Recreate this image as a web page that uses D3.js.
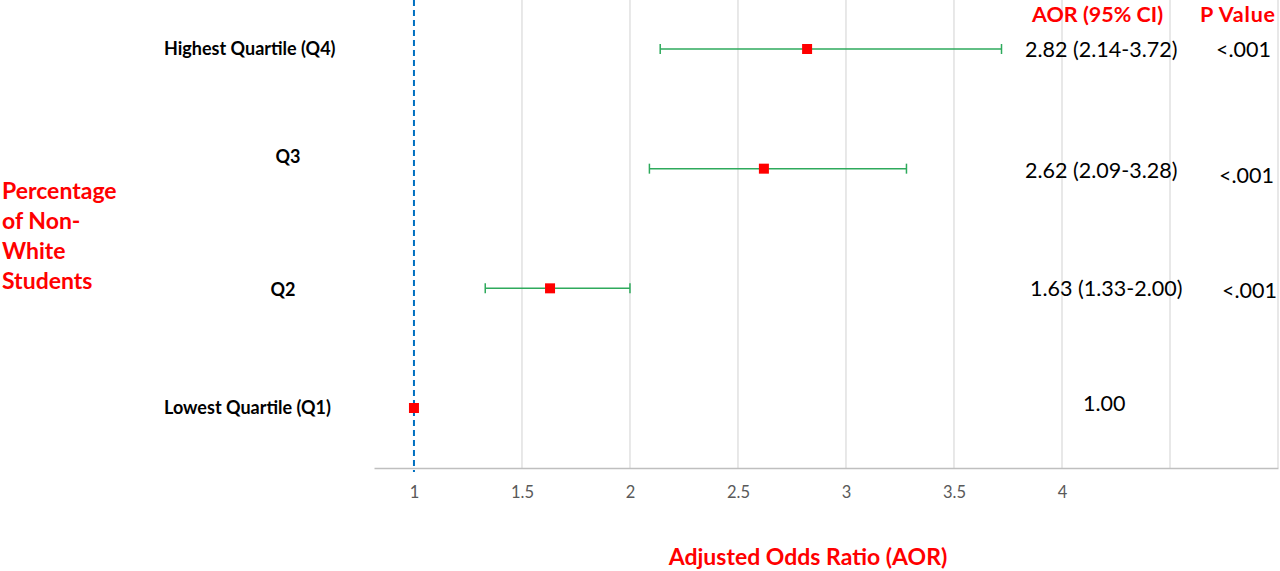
<!DOCTYPE html>
<html><head><meta charset="utf-8">
<script src="https://cdn.jsdelivr.net/npm/d3@7"></script>
<style>html,body{margin:0;padding:0;background:#fff;}svg{display:block;}</style>
</head><body>
<script>
const categories = ["Highest Quartile (Q4)", "Q3", "Q2", "Lowest Quartile (Q1)"];
const aor = [2.82, 2.62, 1.63, 1.00];
const ciLow = [2.14, 2.09, 1.33, null];
const ciHigh = [3.72, 3.28, 2.00, null];
const aorLabels = ["2.82 (2.14-3.72)", "2.62 (2.09-3.28)", "1.63 (1.33-2.00)", "1.00"];
const pLabels = ["<.001", "<.001", "<.001", ""];
const tickValues = [1, 1.5, 2, 2.5, 3, 3.5, 4];
const gridValues = [1.5, 2, 2.5, 3, 3.5, 4, 4.5, 5];
const refValue = 1;

const W = 1280, H = 571;
const font = "Lato, 'Open Sans', sans-serif";
const svg = d3.select("body").append("svg").attr("width", W).attr("height", H);

const x = d3.scaleLinear().domain([0.815, 5]).range([374, 1278]);
const y = d3.scalePoint().domain(categories).range([49, 408]);
const axisY = 468;

// gridlines
svg.append("g").selectAll("line").data(gridValues).join("line")
  .attr("x1", d => x(d)).attr("x2", d => x(d)).attr("y1", 0).attr("y2", axisY)
  .attr("stroke", "#d9d9d9").attr("stroke-width", 1.2);

// x axis
const xAxis = d3.axisBottom(x).tickValues(tickValues).tickSize(0).tickPadding(18)
  .tickFormat(d3.format("~g"));
const gx = svg.append("g").attr("transform", `translate(0,${axisY})`).call(xAxis);
gx.select(".domain").attr("stroke", "#bfbfbf").attr("stroke-width", 1.5);
gx.selectAll("text").attr("font-family", font).attr("font-size", 16.5).attr("fill", "#595959");

// reference dashed line
svg.append("line").attr("x1", x(refValue)).attr("x2", x(refValue)).attr("y1", 0).attr("y2", axisY + 4)
  .attr("stroke", "#0070c0").attr("stroke-width", 2).attr("stroke-dasharray", "6,4");

const rows = categories.map((c, i) => ({c, v: aor[i], lo: ciLow[i], hi: ciHigh[i], a: aorLabels[i], p: pLabels[i]}));

// error bars
const eb = svg.append("g").selectAll("g").data(rows.filter(d => d.lo != null)).join("g");
eb.append("line").attr("x1", d => x(d.lo)).attr("x2", d => x(d.hi))
  .attr("y1", d => y(d.c)).attr("y2", d => y(d.c)).attr("stroke", "#2eaa5c").attr("stroke-width", 1.5);
eb.append("line").attr("x1", d => x(d.lo)).attr("x2", d => x(d.lo))
  .attr("y1", d => y(d.c) - 5).attr("y2", d => y(d.c) + 5).attr("stroke", "#2eaa5c").attr("stroke-width", 1.5);
eb.append("line").attr("x1", d => x(d.hi)).attr("x2", d => x(d.hi))
  .attr("y1", d => y(d.c) - 5).attr("y2", d => y(d.c) + 5).attr("stroke", "#2eaa5c").attr("stroke-width", 1.5);

// markers
svg.append("g").selectAll("rect").data(rows).join("rect")
  .attr("x", d => x(d.v) - 5).attr("y", d => y(d.c) - 5).attr("width", 10).attr("height", 10)
  .attr("fill", "#ff0000");

// category labels
const catPos = [{x: 164, dy: 6, anchor: "start"}, {x: 288, dy: -6, anchor: "middle"}, {x: 283, dy: 8, anchor: "middle"}, {x: 164, dy: 6, anchor: "start"}];
svg.append("g").selectAll("text").data(rows).join("text")
  .attr("x", (d, i) => catPos[i].x).attr("y", (d, i) => y(d.c) + catPos[i].dy)
  .attr("text-anchor", (d, i) => catPos[i].anchor)
  .attr("font-family", font).attr("font-weight", "bold").attr("font-size", 18).attr("fill", "#000")
  .text(d => d.c);

// AOR labels
const aorX = [1025, 1025, 1030, 1083];
const aorDy = [8, 9, 8, 3];
svg.append("g").selectAll("text").data(rows).join("text")
  .attr("x", (d, i) => aorX[i]).attr("y", (d, i) => y(d.c) + aorDy[i])
  .attr("font-family", font).attr("font-size", 21.5).attr("fill", "#000")
  .text(d => d.a);

// P labels
const pX = [1216, 1219, 1222, 0];
const pDy = [8, 14, 10, 0];
svg.append("g").selectAll("text").data(rows.filter(d => d.p)).join("text")
  .attr("x", (d, i) => pX[i]).attr("y", (d, i) => y(d.c) + pDy[i])
  .attr("font-family", font).attr("font-size", 21.5).attr("fill", "#000")
  .text(d => d.p);

// headers
svg.append("text").attr("x", 1032).attr("y", 22).attr("font-family", font).attr("font-weight", "bold")
  .attr("font-size", 21.5).attr("fill", "#ff0000").text("AOR (95% CI)");
svg.append("text").attr("x", 1200).attr("y", 22).attr("font-family", font).attr("font-weight", "bold")
  .attr("font-size", 21.5).attr("letter-spacing", 0.8).attr("fill", "#ff0000").text("P Value");

// y title
const yTitle = ["Percentage", "of Non-", "White", "Students"];
svg.append("g").selectAll("text").data(yTitle).join("text")
  .attr("x", 2).attr("y", (d, i) => 199 + i * 30)
  .attr("font-family", font).attr("font-weight", "bold").attr("font-size", 23).attr("fill", "#ff0000")
  .text(d => d);

// x title
svg.append("text").attr("x", 808).attr("y", 565).attr("text-anchor", "middle")
  .attr("font-family", font).attr("font-weight", "bold").attr("font-size", 23).attr("fill", "#ff0000")
  .text("Adjusted Odds Ratio (AOR)");
</script>
</body></html>
